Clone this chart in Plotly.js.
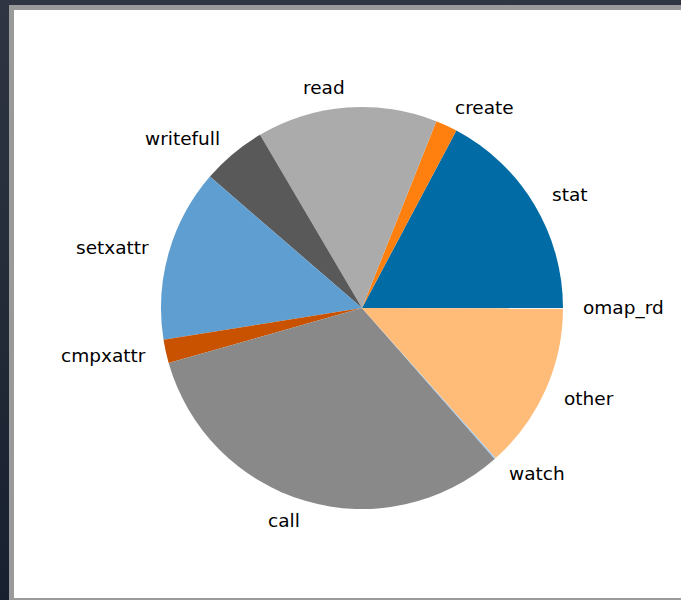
<!DOCTYPE html>
<html>
<head>
<meta charset="utf-8">
<script src="https://cdn.plot.ly/plotly-3.0.1.min.js"></script>
<style>
html,body{margin:0;padding:0;width:681px;height:600px;overflow:hidden;background:linear-gradient(#2f3542,#17202f);}
#frame{position:absolute;left:9px;top:5px;width:672px;height:598px;background:#9a9a9a;}
#plot{position:absolute;left:14px;top:10px;width:667px;height:588px;background:#fff;}
</style>
</head>
<body>
<div id="frame"></div>
<div id="plot"></div>
<script>
const labels = ["stat","create","read","writefull","setxattr","cmpxattr","call","watch","other","omap_rd"];
const values = [17.22,1.75,14.5,5.19,13.86,1.89,32.07,0.11,13.39,0.02];
const colors = ["#006BA4","#FF800E","#ABABAB","#595959","#5F9ED1","#C85200","#898989","#A2C8EC","#FFBC79","#CFCFCF"];

const W = 667, H = 588;
const cx = 348, cy = 298, R = 201;

const total = values.reduce((a,b)=>a+b,0);
const annotations = [];
let acc = 0;
for (let i = 0; i < values.length; i++) {
  const mid = (acc + values[i]/2) / total * 2 * Math.PI;
  acc += values[i];
  const dx = 1.1 * R * Math.cos(mid);
  const dy = 1.1 * R * Math.sin(mid);
  annotations.push({
    text: labels[i],
    xref: 'paper', yref: 'paper',
    x: (cx + dx) / W,
    y: (H - cy + dy) / H,
    xanchor: dx > 0 ? 'left' : 'right',
    yanchor: 'middle',
    showarrow: false,
    borderpad: 0,
    borderwidth: 0,
    font: {family: 'DejaVu Sans', size: 18.5, color: '#000'}
  });
}

const data = [{
  type: 'pie',
  labels: labels,
  values: values,
  sort: false,
  direction: 'counterclockwise',
  rotation: 90 - values[0] / total * 360,
  marker: {colors: colors, line: {width: 0}},
  textinfo: 'none',
  hoverinfo: 'none',
  showlegend: false,
  domain: {x: [(cx - R)/W, (cx + R)/W], y: [(H - cy - R)/H, (H - cy + R)/H]}
}];

const layout = {
  width: W, height: H,
  margin: {l:0, r:0, t:0, b:0},
  paper_bgcolor: '#fff',
  showlegend: false,
  annotations: annotations
};

Plotly.newPlot('plot', data, layout, {staticPlot: true, displayModeBar: false});
</script>
</body>
</html>
